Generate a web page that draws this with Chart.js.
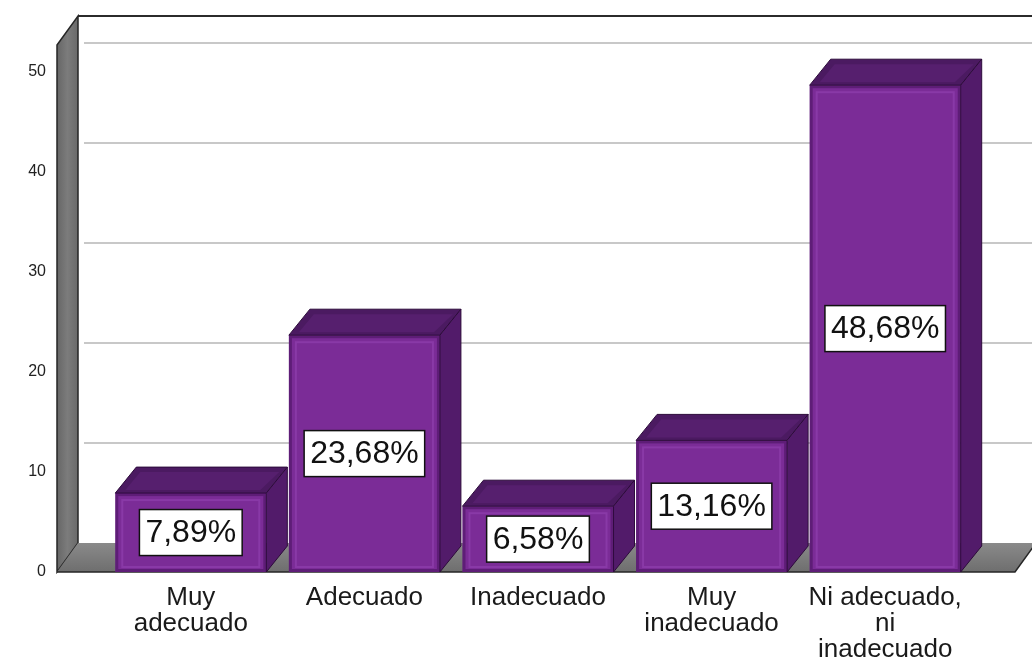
<!DOCTYPE html>
<html lang="es">
<head>
<meta charset="utf-8">
<title>Valoración</title>
<script src="https://cdn.jsdelivr.net/npm/chart.js@4.4.1/dist/chart.umd.min.js"></script>
<style>
  html, body { margin: 0; padding: 0; background: #ffffff; }
  #chartBox { width: 1032px; height: 660px; }
</style>
</head>
<body>
<div id="chartBox"><canvas id="valoracionChart" width="1032" height="660"></canvas></div>
<script>
// -----------------------------
// Data
// -----------------------------
const categories = [
  ['Muy', 'adecuado'],
  ['Adecuado'],
  ['Inadecuado'],
  ['Muy', 'inadecuado'],
  ['Ni adecuado,', 'ni', 'inadecuado']
];
const percentValues = [7.89, 23.68, 6.58, 13.16, 48.68];
const yTicks = [0, 10, 20, 30, 40, 50];

// -----------------------------
// 3D look (walls, floor, bar faces)
// -----------------------------
const WALL_DX = 21, WALL_DY = 29;
const BAR_DX = 21, BAR_DY = 26;
const FONT = "'Liberation Sans', Arial, sans-serif";

const fake3d = {
  id: 'fake3d',
  beforeDatasetsDraw(chart) {
    const { ctx, chartArea, scales } = chart;
    const y = scales.y;
    const wallL = chartArea.left - 47;
    const top = chartArea.top;
    const bottom = chartArea.bottom;
    const floorR = chartArea.right + 43;
    const W = chart.width;

    ctx.save();

    // back wall grid lines
    ctx.strokeStyle = '#c8c8c8';
    ctx.lineWidth = 2;
    yTicks.forEach(v => {
      if (v === 0) return;
      const py = Math.round(y.getPixelForValue(v) - WALL_DY);
      ctx.beginPath();
      ctx.moveTo(wallL + WALL_DX + 6, py);
      ctx.lineTo(W, py);
      ctx.stroke();
    });

    // back wall top edge
    ctx.strokeStyle = '#2b2b2b';
    ctx.lineWidth = 2;
    ctx.beginPath();
    ctx.moveTo(wallL + WALL_DX, top - WALL_DY);
    ctx.lineTo(W, top - WALL_DY);
    ctx.stroke();

    // left wall
    const lg = ctx.createLinearGradient(wallL, 0, wallL + WALL_DX, 0);
    lg.addColorStop(0, '#666666');
    lg.addColorStop(0.5, '#7c7c7c');
    lg.addColorStop(1, '#6a6a6a');
    ctx.fillStyle = lg;
    ctx.beginPath();
    ctx.moveTo(wallL, top);
    ctx.lineTo(wallL + WALL_DX, top - WALL_DY);
    ctx.lineTo(wallL + WALL_DX, bottom - WALL_DY);
    ctx.lineTo(wallL, bottom);
    ctx.closePath();
    ctx.fill();
    ctx.strokeStyle = '#262626';
    ctx.lineWidth = 1.5;
    ctx.stroke();

    // floor
    const fg = ctx.createLinearGradient(0, bottom - WALL_DY, 0, bottom);
    fg.addColorStop(0, '#8a8a8a');
    fg.addColorStop(1, '#6e6e6e');
    ctx.fillStyle = fg;
    ctx.beginPath();
    ctx.moveTo(wallL, bottom);
    ctx.lineTo(wallL + WALL_DX, bottom - WALL_DY);
    ctx.lineTo(floorR + WALL_DX, bottom - WALL_DY);
    ctx.lineTo(floorR, bottom);
    ctx.closePath();
    ctx.fill();
    ctx.strokeStyle = '#262626';
    ctx.lineWidth = 1.5;
    ctx.beginPath();
    ctx.moveTo(wallL, bottom);
    ctx.lineTo(floorR, bottom);
    ctx.lineTo(floorR + WALL_DX, bottom - WALL_DY);
    ctx.stroke();

    ctx.restore();
  },

  afterDatasetsDraw(chart) {
    const { ctx } = chart;
    const meta = chart.getDatasetMeta(0);

    ctx.save();
    meta.data.forEach((bar, i) => {
      const { x, y, base, width } = bar.getProps(['x', 'y', 'base', 'width'], true);
      const left = x - width / 2;
      const right = x + width / 2;

      // top face
      ctx.fillStyle = '#4b1a61';
      ctx.beginPath();
      ctx.moveTo(left, y);
      ctx.lineTo(left + BAR_DX, y - BAR_DY);
      ctx.lineTo(right + BAR_DX, y - BAR_DY);
      ctx.lineTo(right, y);
      ctx.closePath();
      ctx.fill();
      ctx.strokeStyle = '#2c0b3a';
      ctx.lineWidth = 1;
      ctx.stroke();

      // lighter bevel on the top face
      ctx.fillStyle = '#561f6e';
      ctx.beginPath();
      ctx.moveTo(left + 10, y - 3);
      ctx.lineTo(left + BAR_DX + 4, y - BAR_DY + 5);
      ctx.lineTo(right + BAR_DX - 8, y - BAR_DY + 5);
      ctx.lineTo(right - 6, y - 3);
      ctx.closePath();
      ctx.fill();

      // right side face
      ctx.fillStyle = '#521b6a';
      ctx.beginPath();
      ctx.moveTo(right, y);
      ctx.lineTo(right + BAR_DX, y - BAR_DY);
      ctx.lineTo(right + BAR_DX, base - BAR_DY);
      ctx.lineTo(right, base);
      ctx.closePath();
      ctx.fill();
      ctx.strokeStyle = '#2c0b3a';
      ctx.stroke();

      // front bevel
      ctx.strokeStyle = 'rgba(150, 70, 180, 0.55)';
      ctx.lineWidth = 2;
      ctx.strokeRect(left + 7, y + 7, width - 14, base - y - 12);
      ctx.strokeStyle = 'rgba(60, 10, 80, 0.45)';
      ctx.lineWidth = 3;
      ctx.strokeRect(left + 1.5, y + 1.5, width - 3, base - y - 3);

      // value box
      const label = percentValues[i].toFixed(2).replace('.', ',') + '%';
      ctx.font = '32px ' + FONT;
      const tw = ctx.measureText(label).width;
      const bw = tw + 12, bh = 46;
      const cy = (y + base) / 2;
      ctx.fillStyle = '#ffffff';
      ctx.fillRect(x - bw / 2, cy - bh / 2, bw, bh);
      ctx.strokeStyle = '#111111';
      ctx.lineWidth = 1.5;
      ctx.strokeRect(x - bw / 2, cy - bh / 2, bw, bh);
      ctx.fillStyle = '#111111';
      ctx.textAlign = 'center';
      ctx.textBaseline = 'middle';
      ctx.fillText(label, x, cy + 1);
    });
    ctx.restore();
  }
};

// -----------------------------
// Chart
// -----------------------------
new Chart(document.getElementById('valoracionChart'), {
  type: 'bar',
  data: {
    labels: categories,
    datasets: [{
      data: percentValues,
      backgroundColor: '#7b2c97',
      borderWidth: 0,
      barPercentage: 0.87,
      categoryPercentage: 1
    }]
  },
  options: {
    responsive: false,
    animation: false,
    layout: { padding: { top: 45, right: 60, bottom: 0, left: 0 } },
    plugins: {
      legend: { display: false },
      tooltip: { enabled: false }
    },
    scales: {
      x: {
        grid: { display: false, drawTicks: false },
        border: { display: false },
        afterFit(scale) { scale.height = 88; },
        ticks: {
          color: '#1a1a1a',
          padding: 13,
          maxRotation: 0,
          autoSkip: false,
          font: { family: FONT, size: 26, lineHeight: 1.0 }
        }
      },
      y: {
        min: 0,
        max: 52.7,
        grid: { display: false, drawTicks: false },
        border: { display: false },
        afterFit(scale) {
          // big label padding would otherwise push the plot area down
          scale.width = 104;
          scale.paddingTop = 0;
          scale.paddingBottom = 0;
        },
        afterBuildTicks(scale) {
          scale.ticks = yTicks.map(v => ({ value: v }));
        },
        ticks: {
          color: '#222222',
          padding: 58,
          font: { family: FONT, size: 16 }
        }
      }
    }
  },
  plugins: [fake3d]
});
</script>
</body>
</html>
